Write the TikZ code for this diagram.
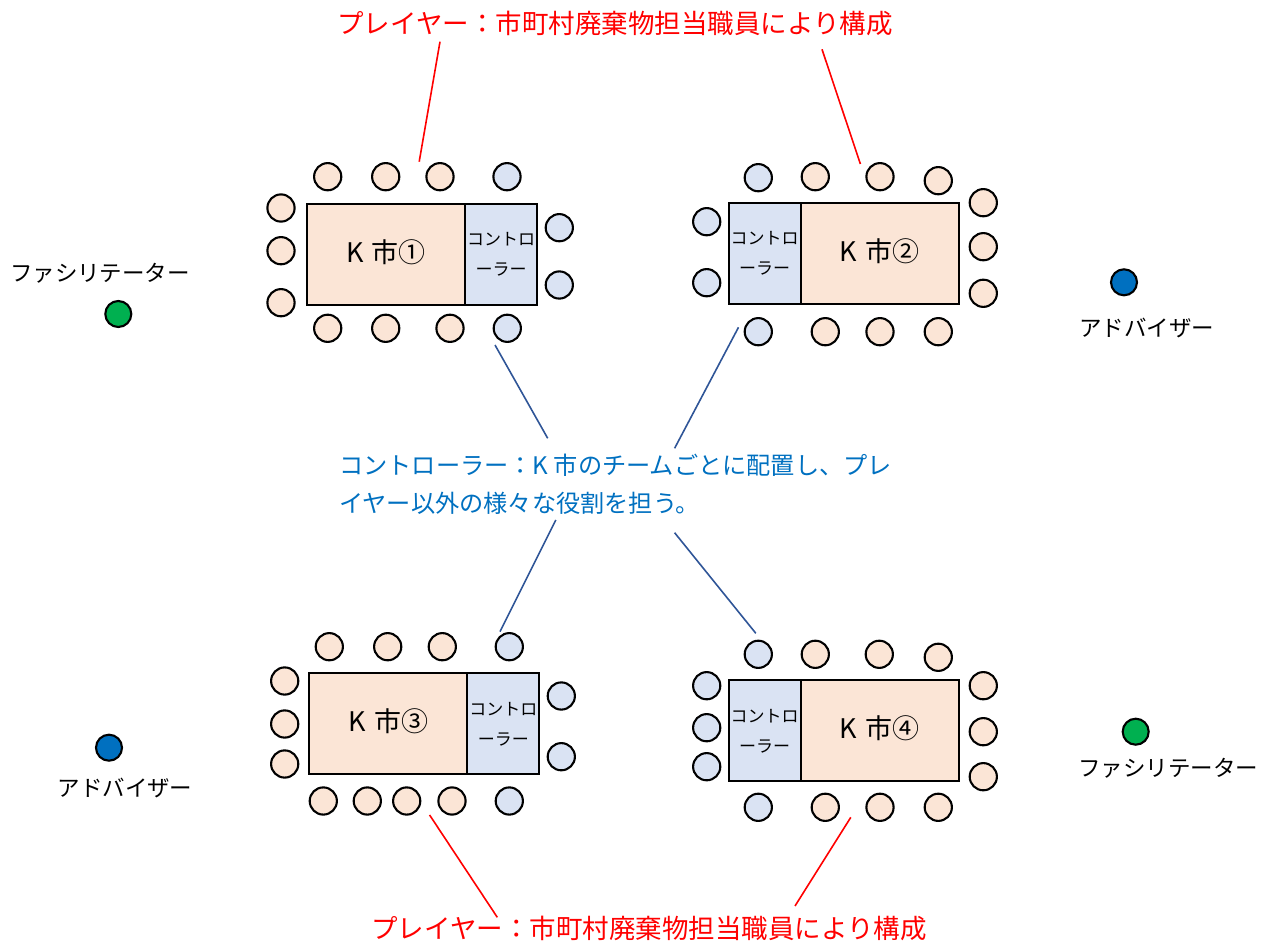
\documentclass[tikz,border=0pt]{standalone}
\usepackage{fontspec}
\setmainfont{Noto Sans CJK JP}
\usetikzlibrary{calc, positioning}
\definecolor{seatorange}{HTML}{FBE5D6}
\definecolor{seatblue}{HTML}{DAE3F3}
\definecolor{facilgreen}{HTML}{00B050}
\definecolor{advblue}{HTML}{0070C0}
\definecolor{notenavy}{HTML}{2F5597}
\def\lw{2.1pt}
\def\sw{27.2}
\def\cw{158}
\def\kw{72}
\def\th{101}
\def\ctrllabel{コントロ\\ーラー}
\tikzset{
    seat/.style = {
        draw, circle, minimum size=\sw, inner sep=0pt, line width=\lw
    },
    player/.style = {seat, fill=seatorange},
    ctrlseat/.style = {seat, fill=seatblue},
    role/.style = {seat, minimum size=26},
    citybox/.style = {
        draw, rectangle, fill=seatorange, minimum width=\cw, minimum height=\th,
        line width=\lw, outer sep=0pt, font=\fontsize{27}{30}\selectfont
    },
    ctrlbox/.style = {
        draw, rectangle, fill=seatblue, minimum width=\kw, minimum height=\th,
        line width=\lw, outer sep=0pt, align=center, inner sep=0pt,
        font=\fontsize{17}{30}\selectfont
    },
    rolelabel/.style = {font=\fontsize{22.5}{27}\selectfont, inner sep=0pt},
    pics/TableR/.style ={
        code = {
            \node [citybox, anchor=east](-city) at (0,0){\raisebox{7pt}{#1}};
            \node [ctrlbox, anchor=west](-ctrl) at (0,0){\ctrllabel};
    }},
    pics/TableL/.style ={
        code = {
            \node [citybox, anchor=west](-city) at (0,0){\raisebox{7pt}{#1}};
            \node [ctrlbox, anchor=east](-ctrl) at (0,0){\ctrllabel};
    }}
}
\begin{document}
\begin{tikzpicture}[x=1pt, y=-1pt]
    \useasboundingbox (0,0) rectangle (1270,941);
    % Place the tables
    \pic (t1) at (465,254.5) {TableR={K\hspace{0.3em}市①}};
    \pic (t2) at (800.7,253.7) {TableL={K\hspace{0.3em}市②}};
    \pic (t3) at (467.3,723.9) {TableR={K\hspace{0.3em}市③}};
    \pic (t4) at (800.7,730.9) {TableL={K\hspace{0.3em}市④}};
    % Place the seats
    \foreach \cx/\cy [count=\i] in {327.7/176.7, 385.7/176.7, 440/176.7, 281/208, 281/250.7, 281/302.7, 327.7/328.3, 385.7/328.3, 450/328.3}
        \node[player] (t1-p\i) at (\cx,\cy) {};
    \foreach \cx/\cy [count=\i] in {507/176.7, 559.3/227.7, 559.3/285, 507.3/328.3}
        \node[ctrlseat] (t1-c\i) at (\cx,\cy) {};
    \foreach \cx/\cy [count=\i] in {815.3/176.7, 880/176.7, 938.3/180.7, 983.3/202.7, 983.3/246.7, 983.3/293.3, 825.3/331.7, 880/331.7, 938.3/331.7}
        \node[player] (t2-p\i) at (\cx,\cy) {};
    \foreach \cx/\cy [count=\i] in {758.3/177.7, 706.7/221.7, 706.7/282.7, 758.3/331.7}
        \node[ctrlseat] (t2-c\i) at (\cx,\cy) {};
    \foreach \cx/\cy [count=\i] in {329.3/646.7, 387.7/646.7, 442.3/646.7, 284.7/681, 284.7/724, 284.7/764, 323.3/801, 367.3/801, 406.7/801, 452/801}
        \node[player] (t3-p\i) at (\cx,\cy) {};
    \foreach \cx/\cy [count=\i] in {509.3/646.7, 561.3/696, 561.3/756.7, 509.3/801}
        \node[ctrlseat] (t3-c\i) at (\cx,\cy) {};
    \foreach \cx/\cy [count=\i] in {815.3/654.3, 879.3/654.3, 938.3/657.3, 983.3/685.7, 983.3/731.7, 983.3/776.7, 825.3/807.3, 880/807.3, 938.3/807.3}
        \node[player] (t4-p\i) at (\cx,\cy) {};
    \foreach \cx/\cy [count=\i] in {758.3/654.3, 706.7/685.7, 706.7/727.7, 706.7/766.7, 758.3/807.3}
        \node[ctrlseat] (t4-c\i) at (\cx,\cy) {};
    % Facilitators and advisers
    \node[role, fill=facilgreen] (fac1) at (118.3,314) {};
    \node[rolelabel] (fac1-label) at (100,273) {ファシリテーター};
    \node[role, fill=advblue] (adv1) at (1124,282.3) {};
    \node[rolelabel] (adv1-label) at (1146.5,328) {アドバイザー};
    \node[role, fill=advblue] (adv2) at (109,747.7) {};
    \node[rolelabel] (adv2-label) at (125,788) {アドバイザー};
    \node[role, fill=facilgreen] (fac2) at (1135.7,731.7) {};
    \node[rolelabel] (fac2-label) at (1168,768) {ファシリテーター};
    % Notes
    \node[text=red, font=\fontsize{26.5}{30}\selectfont, inner sep=0pt] (playernote1) at (615,23) {プレイヤー：市町村廃棄物担当職員により構成};
    \node[text=red, font=\fontsize{26.5}{30}\selectfont, inner sep=0pt] (playernote2) at (649,928) {プレイヤー：市町村廃棄物担当職員により構成};
    \node[text=advblue, font=\fontsize{24.2}{38}\selectfont, inner sep=0pt, align=left, anchor=west] (ctrlnote) at (339,484)
        {コントローラー：K 市のチームごとに配置し、プレ\\イヤー以外の様々な役割を担う。};
    % Leader lines
    \coordinate (r1a) at (440,41.7);   \coordinate (r1b) at (419.2,161.7);
    \coordinate (r2a) at (822,49.3);   \coordinate (r2b) at (860.4,164);
    \coordinate (r3a) at (429.6,815);  \coordinate (r3b) at (497.3,917.3);
    \coordinate (r4a) at (850.8,817.3); \coordinate (r4b) at (795,906);
    \coordinate (b1a) at (495,345);    \coordinate (b1b) at (547.7,438.3);
    \coordinate (b2a) at (738.5,327.3); \coordinate (b2b) at (674.6,448.3);
    \coordinate (b3a) at (555.8,520);  \coordinate (b3b) at (500,631.7);
    \coordinate (b4a) at (674.6,532.7); \coordinate (b4b) at (755.8,633.3);
    \begin{scope}[line width=1.6pt, red]
        \draw (r1a) -- (r1b);
        \draw (r2a) -- (r2b);
        \draw (r3a) -- (r3b);
        \draw (r4a) -- (r4b);
    \end{scope}
    \begin{scope}[line width=1.6pt, notenavy]
        \draw (b1a) -- (b1b);
        \draw (b2a) -- (b2b);
        \draw (b3a) -- (b3b);
        \draw (b4a) -- (b4b);
    \end{scope}
\end{tikzpicture}
\end{document}
